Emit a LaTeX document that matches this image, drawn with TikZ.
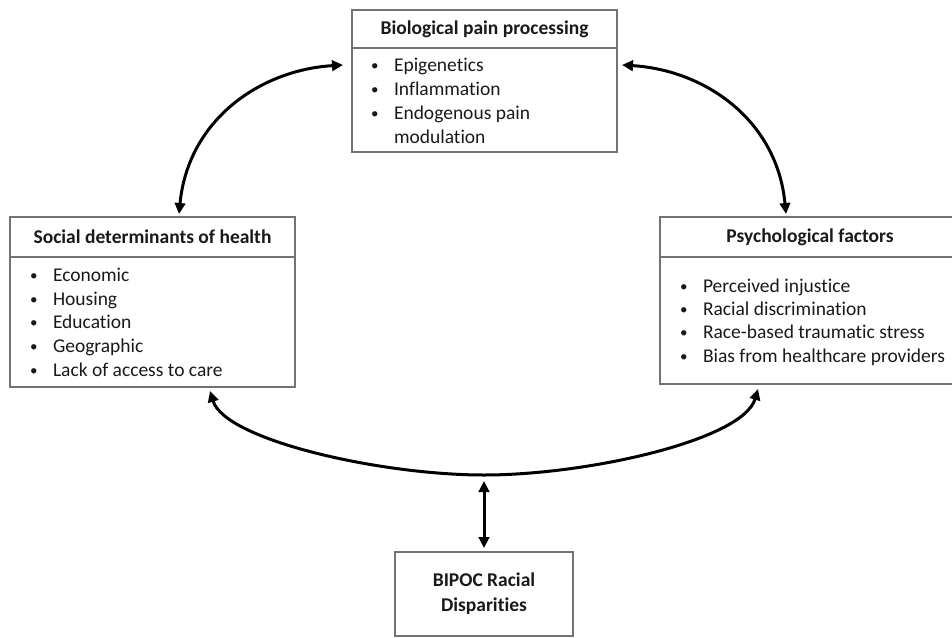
\documentclass[tikz,border=0pt]{standalone}
\usepackage{fontspec}
\setmainfont[Ligatures={NoCommon}]{Carlito}
\usetikzlibrary{arrows.meta}
\newcommand\itembul{\makebox[24pt][l]{\hspace*{1pt}\raisebox{1pt}{\fontsize{15}{15}\selectfont\textbullet}}}
\begin{document}
\begin{tikzpicture}[x=1pt,y=-1pt,
  frame/.style={draw=black!55, line width=1.1pt, inner sep=0pt, outer sep=0pt},
  head/.style={frame, font=\fontsize{19.5}{24}\selectfont\bfseries, text=black!90},
  items/.style={anchor=north west, inner sep=0pt, outer sep=0pt, align=left, text=black!90},
  link/.style={line width=3pt, {Triangle[length=11pt,width=10.5pt]}-{Triangle[length=11pt,width=10.5pt]}}]
\useasboundingbox (0,0) rectangle (952,637);

% Biological pain processing
\node[head, minimum width=265, minimum height=38] (bioHead) at (484.5,29) {Biological pain processing};
\node[frame, minimum width=265, minimum height=104] (bioBody) at (484.5,100) {};
\node[items, font=\fontsize{19.5}{24}\selectfont] (bioText) at (370,54.7)
  {\strut\itembul Epigenetics\\ \itembul Inflammation\\ \itembul Endogenous pain\\ \hspace*{24pt}modulation};

% Social determinants of health
\node[head, minimum width=285, minimum height=40] (socHead) at (152.5,237) {Social determinants of health};
\node[frame, minimum width=285, minimum height=130] (socBody) at (152.5,322) {};
\node[items, font=\fontsize{19.5}{23.75}\selectfont] (socText) at (29,264.7)
  {\strut\itembul Economic\\ \itembul Housing\\ \itembul Education\\ \itembul Geographic\\ \itembul Lack of access to care};

% Psychological factors
\node[head, minimum width=300, minimum height=40] (psyHead) at (810,237) {Psychological factors};
\node[frame, minimum width=300, minimum height=127] (psyBody) at (810,320.5) {};
\node[items, font=\fontsize{19.5}{23.4}\selectfont] (psyText) at (679,275.7)
  {\strut\itembul Perceived injustice\\ \itembul Racial discrimination\\ \itembul Race-based traumatic stress\\ \itembul Bias from healthcare providers};

% BIPOC
\node[frame, minimum width=178, minimum height=84, align=center,
      font=\fontsize{19.5}{25}\selectfont\bfseries, text=black!90] (bipoc) at (484,594)
  {BIPOC Racial\\Disparities};

% connectors
\coordinate (tlA) at (343,65);
\coordinate (tlB) at (179,214);
\coordinate (trA) at (622,65);
\coordinate (trB) at (786,214);
\coordinate (bl) at (210,391);
\coordinate (bm) at (484,475);
\coordinate (br) at (758,389);
\coordinate (vt) at (484,481);
\coordinate (vb) at (484,548);

\draw[link] (tlB) .. controls (188,120) and (260,70) .. (tlA);
\draw[link] (trA) .. controls (705,70) and (777,120) .. (trB);
\draw[link] (bl) .. controls (225,440) and (380,475) .. (bm) .. controls (588,475) and (743,440) .. (br);
\draw[link] (vt) -- (vb);
\end{tikzpicture}
\end{document}
